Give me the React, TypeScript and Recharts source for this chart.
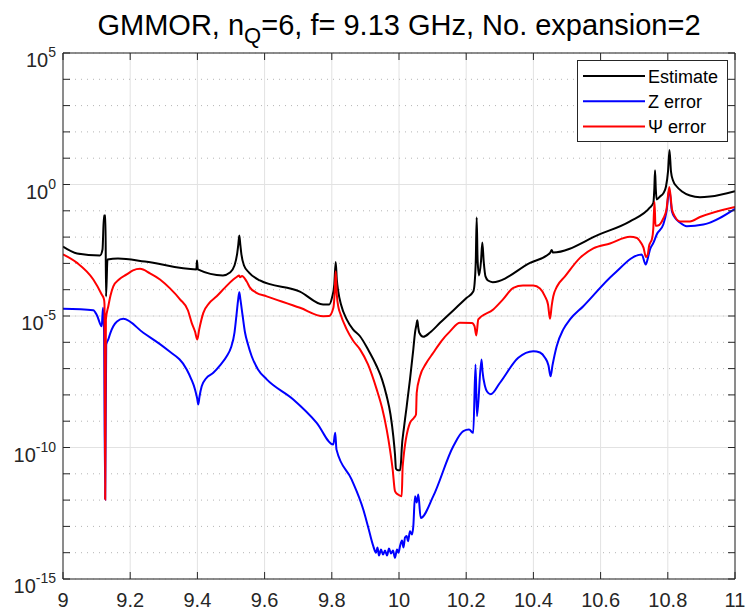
import React from 'react';
import { LineChart, Line, XAxis, YAxis, CartesianGrid } from 'recharts';

const FONT = '"Liberation Sans", Arial, Helvetica, sans-serif';
const AXIS = '#262626';

const xTicks = [9, 9.2, 9.4, 9.6, 9.8, 10, 10.2, 10.4, 10.6, 10.8, 11];
const yTicks = [1e-15, 1e-14, 1e-13, 1e-12, 1e-11, 1e-10, 1e-9, 1e-8, 1e-7, 1e-6, 1e-5, 1e-4, 1e-3, 1e-2, 1e-1, 1, 1e1, 1e2, 1e3, 1e4, 1e5];
const yMajorTicks = [1e-15, 1e-10, 1e-5, 1, 1e5];

const estimateX = [9.0, 9.042, 9.11, 9.1176, 9.122, 9.1265, 9.128, 9.1324, 9.1637, 9.244, 9.397, 9.3988, 9.4012, 9.476, 9.497, 9.5104, 9.518, 9.5217, 9.5247, 9.5277, 9.531, 9.5387, 9.5536, 9.586, 9.705, 9.774, 9.792, 9.8006, 9.8074, 9.8116, 9.8149, 9.8193, 9.8274, 9.8443, 9.8631, 9.884, 9.9077, 9.9336, 9.9494, 9.9634, 9.9747, 9.983, 9.9881, 9.991, 9.997, 10.003, 10.0065, 10.008, 10.0149, 10.0229, 10.0327, 10.0426, 10.0476, 10.0521, 10.0545, 10.0574, 10.0604, 10.0723, 10.0923, 10.122, 10.2015, 10.221, 10.2247, 10.2286, 10.2312, 10.2339, 10.2381, 10.244, 10.248, 10.2521, 10.2574, 10.2649, 10.2789, 10.39, 10.4494, 10.4545, 10.4583, 10.598, 10.6875, 10.747, 10.757, 10.7598, 10.762, 10.7643, 10.767, 10.7768, 10.7866, 10.7946, 10.8006, 10.805, 10.8095, 10.8155, 10.8265, 10.8423, 10.866, 10.8958, 10.9256, 11.0];
const estimateY = [4.4e-3, 2.4e-3, 2.0e-3, 3.4e-3, 6.6e-2, 6.6e-2, 5.5e-5, 1.4e-3, 1.54e-3, 1.18e-3, 5.9e-4, 1.29e-3, 5.9e-4, 3.5e-4, 4.5e-4, 8.3e-4, 2.2e-3, 5.2e-3, 1.15e-2, 5.2e-3, 2.2e-3, 8.3e-4, 4.5e-4, 2.24e-4, 8.5e-5, 2.75e-5, 2.75e-5, 5.0e-5, 1.58e-4, 1.12e-3, 2.45e-4, 8.5e-5, 2.75e-5, 7.4e-6, 3.1e-6, 1.7e-6, 5.4e-7, 1.23e-7, 3.9e-8, 8.9e-9, 1.8e-9, 2.7e-10, 5.4e-11, 1.55e-11, 1.35e-11, 1.35e-11, 3.5e-11, 8.3e-11, 5.8e-10, 3.7e-9, 3.9e-8, 5.4e-7, 2.3e-6, 4.8e-6, 6.9e-6, 3.6e-6, 2.3e-6, 1.62e-6, 2.35e-6, 5.5e-6, 4.9e-5, 8.5e-5, 1.58e-4, 1.4e-3, 5.6e-2, 1.4e-3, 3.47e-4, 1.18e-3, 6.2e-3, 1.18e-3, 3.2e-4, 2.24e-4, 1.94e-4, 1.05e-3, 2.5e-3, 3.2e-3, 2.6e-3, 1.3e-2, 4.0e-2, 0.134, 0.2, 0.65, 3.5, 0.65, 0.27, 0.35, 0.46, 0.84, 3.1, 20.6, 3.1, 1.42, 0.84, 0.54, 0.38, 0.33, 0.35, 0.56];

const zErrorX = [9.0, 9.0902, 9.1012, 9.1152, 9.119, 9.122, 9.12559, 9.1286, 9.1348, 9.1414, 9.1497, 9.1607, 9.1795, 9.239, 9.3086, 9.3682, 9.381, 9.3929, 9.3994, 9.4027, 9.4063, 9.4128, 9.4256, 9.4473, 9.4673, 9.4872, 9.5, 9.5104, 9.517, 9.5214, 9.5247, 9.528, 9.5348, 9.5417, 9.5506, 9.5616, 9.5804, 9.6063, 9.6854, 9.755, 9.8045, 9.8101, 9.814, 9.8592, 9.8937, 9.9077, 9.9235,
  9.9315, 9.936, 9.9405, 9.9464, 9.9524, 9.9583, 9.9643, 9.9702, 9.9762, 9.9821, 9.9881, 9.994, 9.9985, 10.003, 10.0089, 10.0134, 10.0179, 10.0229, 10.0268, 10.0327, 10.0387, 10.0426,
  10.0476, 10.0527, 10.0574, 10.0646, 10.102, 10.1616, 10.1914, 10.2083, 10.221, 10.2277, 10.2321, 10.2455, 10.2485, 10.256, 10.2619, 10.273, 10.3006, 10.355, 10.3997, 10.4196, 10.4345, 10.4449, 10.451, 10.4568, 10.4693, 10.489, 10.5089, 10.5485, 10.6378, 10.7223, 10.7342, 10.741, 10.747, 10.757, 10.767, 10.7866, 10.7961, 10.8045, 10.8125, 10.8214, 10.836, 10.8562, 10.9057, 11.0];
const zErrorY = [1.87e-5, 1.66e-5, 1.05e-5, 4.1e-6, 2.05e-5, 3.1e-6, 1.05e-12, 8.3e-7, 1.29e-6, 2.35e-6, 4.1e-6, 6.2e-6, 7.8e-6, 2.3e-6, 5.4e-7, 9.3e-8, 4.2e-8, 1.62e-8, 7.3e-9, 4.3e-9, 8.7e-9, 2.14e-8, 4.2e-8, 6.9e-8, 1.32e-7, 2.95e-7, 6.3e-7, 2.35e-6, 1.32e-5, 4.3e-5, 8.0e-5, 4.3e-5, 9.8e-6, 2.35e-6, 8.3e-7, 2.95e-7, 9.3e-8, 3.9e-8, 6.7e-9, 8.7e-10, 1.29e-10, 3.6e-10, 8.3e-11, 6.0e-12, 4.4e-13, 1.0e-13, 1.78e-14,
  1.0e-14, 1.58e-14, 7.8e-15, 1.32e-14, 8.5e-15, 1.2e-14, 7.8e-15, 1.45e-14, 9.3e-15, 1.2e-14, 6.4e-15, 1.32e-14, 1.0e-14, 1.78e-14, 2.9e-14, 1.58e-14, 3.8e-14, 4.3e-14, 2.7e-14, 6.5e-14, 4.9e-14, 1.02e-13,
  1.41e-12, 8.1e-13, 1.62e-12, 2.1e-13, 1.41e-12, 1.12e-10, 4.2e-10, 4.8e-10, 3.6e-10, 1.44e-7, 1.55e-9, 2.24e-7, 7.8e-8, 2.14e-8, 1.35e-8, 1.05e-8, 2.9e-8, 2.57e-7, 4.6e-7, 4.1e-7, 2.6e-7, 1.32e-7, 5.1e-8, 1.32e-7, 7.1e-7, 3.1e-6, 7.4e-6, 2.35e-5, 3.8e-4, 2.2e-3, 9.1e-4, 1.66e-3, 3.4e-3, 6.0e-3, 1.26e-2, 3.0e-2, 9.3e-2, 0.65, 9.3e-2, 5.4e-2, 3.6e-2, 2.6e-2, 3.0e-2, 0.12];

const psiErrorX = [9.0, 9.0417, 9.0902, 9.1152, 9.122, 9.1235, 9.12559, 9.12768, 9.1348, 9.1414, 9.1497, 9.1667, 9.1896, 9.2083, 9.2292, 9.2589, 9.2887, 9.3185, 9.3482, 9.372, 9.383, 9.3929, 9.3997, 9.4054, 9.4176, 9.4345, 9.4574, 9.4821, 9.5068, 9.5179, 9.5238, 9.5268, 9.5327, 9.5467, 9.5565, 9.5744, 9.6062, 9.7054, 9.7747, 9.7917, 9.8045, 9.8083, 9.8116, 9.8149, 9.8199, 9.8244, 9.8443, 9.8631, 9.8839, 9.9077, 9.9336, 9.9494, 9.9634, 9.9732, 9.9812, 9.988, 9.997, 10.008, 10.011, 10.0327, 10.0446, 10.0506, 10.0527, 10.0625, 10.0804, 10.102, 10.125, 10.1518, 10.1815, 10.2173, 10.2247, 10.23, 10.236, 10.2806, 10.3095, 10.3402, 10.369, 10.3997, 10.4196, 10.4345, 10.4435, 10.4494, 10.4545, 10.4592, 10.4702, 10.494, 10.5387, 10.5783, 10.628, 10.6875, 10.7083, 10.7173, 10.7277, 10.735, 10.741, 10.744, 10.7539, 10.7568, 10.7604, 10.7634, 10.7708, 10.7866, 10.7961, 10.8045, 10.8125, 10.8214, 10.836, 10.866, 10.8958, 11.0];
const psiErrorY = [2.2e-3, 1.05e-3, 2.45e-4, 6.6e-5, 4.3e-5, 2.75e-5, 1.05e-12, 7.4e-6, 2.35e-5, 6.0e-5, 1.35e-4, 2.45e-4, 3.8e-4, 5.4e-4, 6.2e-4, 4.2e-4, 2.45e-4, 1.12e-4, 4.3e-5, 1.62e-5, 5.5e-6, 2.57e-6, 1.29e-6, 3.1e-6, 1.32e-5, 3.0e-5, 5.6e-5, 1.2e-4, 2.45e-4, 3.1e-4, 3.47e-4, 3.0e-4, 3.3e-4, 2.05e-4, 1.2e-4, 7.8e-5, 5.6e-5, 2.05e-5, 9.8e-6, 9.9e-6, 2.0e-5, 6.6e-5, 5.0e-4, 6.6e-5, 2.1e-5, 1.32e-5, 3.1e-6, 1.17e-6, 5.4e-7, 1.44e-7, 1.62e-8, 3.3e-9, 4.8e-10, 8.3e-11, 1.45e-11, 2.2e-12, 1.62e-12, 1.41e-12, 1.95e-11, 8.7e-10, 1.35e-9, 1.8e-9, 1.2e-8, 5.1e-8, 1.55e-7, 4.0e-7, 1.07e-6, 2.6e-6, 5.5e-6, 5.4e-6, 4.1e-6, 1.82e-6, 7.4e-6, 1.78e-5, 4.3e-5, 1.18e-4, 1.45e-4, 1.45e-4, 1.12e-4, 5.6e-5, 2.75e-5, 7.8e-6, 2.5e-5, 5.6e-5, 1.32e-4, 3.2e-4, 1.62e-3, 3.7e-3, 5.7e-3, 1.02e-2, 9.3e-3, 6.9e-3, 4.0e-3, 1.74e-3, 2.4e-3, 4.4e-3, 9.6e-3, 2.1e-2, 0.22, 2.7e-2, 2.75e-2, 5.1e-2, 0.112, 0.81, 0.112, 6.0e-2, 3.9e-2, 3.9e-2, 5.8e-2, 0.141];

const toRows = (xs: number[], ys: number[]) => xs.map((x, i) => ({ x, v: ys[i] }));
const estimateData = toRows(estimateX, estimateY);
const zErrorData = toRows(zErrorX, zErrorY);
const psiErrorData = toRows(psiErrorX, psiErrorY);

const legendItems = [
  { name: 'Estimate', color: '#000000' },
  { name: 'Z error', color: '#0000ff' },
  { name: '\u03A8 error', color: '#ff0000' },
];

function LeftTick(props: any) {
  const { x, y, payload } = props;
  const k = Math.round(Math.log10(payload.value));
  return (
    <g>
      <line x1={x} y1={y} x2={x + 7} y2={y} stroke={AXIS} strokeWidth={1} />
      {k % 5 === 0 && (
        <text x={x - 7} y={y + 14} textAnchor="end" fontFamily={FONT} fontSize={20} fill={AXIS}>
          10<tspan dy={-10} fontSize={14}>{String(k)}</tspan>
        </text>
      )}
    </g>
  );
}

function RightTick(props: any) {
  const { x, y } = props;
  return <line x1={x} y1={y} x2={x - 7} y2={y} stroke={AXIS} strokeWidth={1} />;
}

function TopTick(props: any) {
  const { x, y } = props;
  return <line x1={x} y1={y} x2={x} y2={y + 7} stroke={AXIS} strokeWidth={1} />;
}

function BottomTick(props: any) {
  const { x, y, payload } = props;
  return (
    <g>
      <line x1={x} y1={y} x2={x} y2={y - 7} stroke={AXIS} strokeWidth={1} />
      <text x={x} y={y + 28} textAnchor="middle" fontFamily={FONT} fontSize={20} fill={AXIS}>
        {String(payload.value)}
      </text>
    </g>
  );
}

export default function App() {
  return (
    <div style={{ position: 'absolute', left: 0, top: 0, width: 746, height: 611, background: '#ffffff' }}>
      <LineChart width={746} height={611} margin={{ top: 0, right: 0, bottom: 0, left: 0 }}>
        <XAxis xAxisId="bottom" dataKey="x" type="number" domain={[9, 11]} ticks={xTicks} interval={0}
          allowDataOverflow height={32} tickSize={0} tickMargin={0} tickLine={false}
          axisLine={{ stroke: AXIS }} tick={<BottomTick />} />
        <XAxis xAxisId="top" orientation="top" dataKey="x" type="number" domain={[9, 11]} ticks={xTicks} interval={0}
          allowDataOverflow height={53} tickSize={0} tickMargin={0} tickLine={false}
          axisLine={{ stroke: AXIS }} tick={<TopTick />} />
        <YAxis yAxisId="left" type="number" scale="log" domain={[1e-15, 1e5]} ticks={yTicks} interval={0}
          allowDataOverflow width={63} tickSize={0} tickMargin={0} tickLine={false}
          axisLine={{ stroke: AXIS }} tick={<LeftTick />} />
        <YAxis yAxisId="right" orientation="right" type="number" scale="log" domain={[1e-15, 1e5]} ticks={yTicks} interval={0}
          allowDataOverflow width={11} tickSize={0} tickMargin={0} tickLine={false}
          axisLine={{ stroke: AXIS }} tick={<RightTick />} />
        <YAxis yAxisId="major" hide type="number" scale="log" domain={[1e-15, 1e5]} ticks={yMajorTicks} interval={0} allowDataOverflow />
        <CartesianGrid xAxisId="bottom" yAxisId="left" horizontal={false} vertical stroke="#e2e2e2" strokeWidth={1} />
        <CartesianGrid xAxisId="bottom" yAxisId="left" horizontal vertical={false} stroke="#b4b4b4" strokeDasharray="1 5" strokeWidth={1} />
        <CartesianGrid xAxisId="bottom" yAxisId="major" horizontal vertical={false} stroke="#e2e2e2" strokeWidth={1} />
        <Line xAxisId="bottom" yAxisId="left" data={estimateData} dataKey="v" type="monotone" stroke="#000000" strokeWidth={2} dot={false} isAnimationActive={false} />
        <Line xAxisId="bottom" yAxisId="left" data={zErrorData} dataKey="v" type="monotone" stroke="#0000ff" strokeWidth={2} dot={false} isAnimationActive={false} />
        <Line xAxisId="bottom" yAxisId="left" data={psiErrorData} dataKey="v" type="monotone" stroke="#ff0000" strokeWidth={2} dot={false} isAnimationActive={false} />
      </LineChart>
      <svg width={746} height={50} style={{ position: 'absolute', left: 0, top: 0 }}>
        <text x={399} y={35} textAnchor="middle" fontFamily={FONT} fontSize={29} fill="#000">
          GMMOR, n<tspan dy={8} fontSize={22}>Q</tspan><tspan dy={-8} fontSize={29}>=6, f= 9.13 GHz, No. expansion=2</tspan>
        </text>
      </svg>
      <svg width={152} height={83} style={{ position: 'absolute', left: 577, top: 60 }}>
        <rect x={0.5} y={0.5} width={150} height={81} fill="#ffffff" stroke={AXIS} strokeWidth={1} />
        {legendItems.map((it, i) => (
          <g key={it.name}>
            <line x1={6} x2={68} y1={16 + i * 25.3} y2={16 + i * 25.3} stroke={it.color} strokeWidth={2} />
            <text x={71} y={16 + i * 25.3 + 6.5} fontFamily={FONT} fontSize={18} fill="#000">{it.name}</text>
          </g>
        ))}
      </svg>
    </div>
  );
}
